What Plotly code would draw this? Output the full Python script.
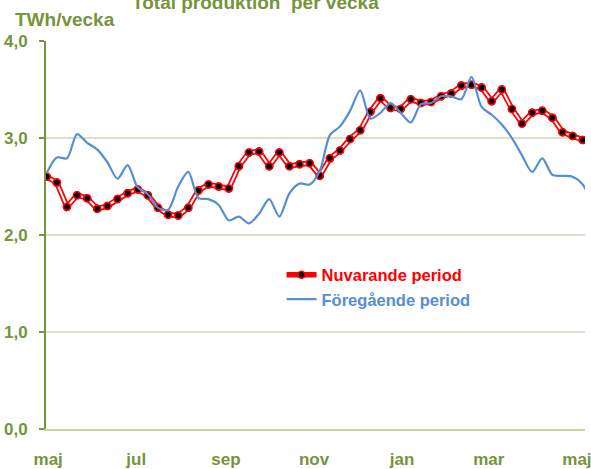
import pandas as pd
import plotly.graph_objects as go

# ---- data ----
weeks = pd.date_range("2011-04-30", periods=55, freq="7D")
nuvarande = [2.60, 2.54, 2.29, 2.41, 2.38, 2.27, 2.30, 2.37, 2.43, 2.47,
             2.41, 2.28, 2.21, 2.20, 2.28, 2.46, 2.52, 2.50, 2.48, 2.71,
             2.85, 2.86, 2.71, 2.85, 2.71, 2.73, 2.74, 2.61, 2.79, 2.87,
             2.99, 3.08, 3.27, 3.41, 3.31, 3.30, 3.40, 3.36, 3.37, 3.43,
             3.46, 3.54, 3.55, 3.52, 3.38, 3.50, 3.30, 3.15, 3.26, 3.28,
             3.21, 3.06, 3.02, 2.98, 2.96]
foregaende = [2.64, 2.80, 2.79, 3.04, 2.95, 2.88, 2.75, 2.58, 2.72, 2.49,
              2.42, 2.28, 2.26, 2.50, 2.65, 2.38, 2.37, 2.31, 2.15, 2.19,
              2.12, 2.22, 2.37, 2.19, 2.43, 2.53, 2.52, 2.66, 3.03, 3.12,
              3.28, 3.49, 3.20, 3.26, 3.36, 3.26, 3.16, 3.35, 3.36, 3.43,
              3.43, 3.40, 3.63, 3.32, 3.24, 3.14, 3.00, 2.82, 2.65, 2.79,
              2.62, 2.61, 2.60, 2.52, 2.30]
tick_dates = ["2011-05-01", "2011-07-01", "2011-09-01", "2011-11-01",
              "2012-01-01", "2012-03-01", "2012-05-01"]
tick_labels = ["maj", "jul", "sep", "nov", "jan", "mar", "maj"]
y_ticks = [0, 1, 2, 3, 4]

GREEN = "#77933C"
RED = "#FF0000"
BLUE = "#558ED5"
FONT = "Liberation Sans, Arial, sans-serif"

fig = go.Figure()

# red double line + markers (legend entry)
fig.add_trace(go.Scatter(
    x=weeks, y=nuvarande, mode="lines+markers",
    name="<span style='color:#FF0000'><b>Nuvarande period</b></span>",
    line=dict(color=RED, width=5.5),
    marker=dict(color="black", size=7, line=dict(color=RED, width=1.5)),
    legendrank=1,
))
fig.add_trace(go.Scatter(
    x=weeks, y=nuvarande, mode="lines", showlegend=False,
    line=dict(color="white", width=2), hoverinfo="skip",
))
fig.add_trace(go.Scatter(
    x=weeks, y=nuvarande, mode="markers", showlegend=False,
    marker=dict(color="black", size=7, line=dict(color=RED, width=1.5)),
    hoverinfo="skip",
))
fig.add_trace(go.Scatter(
    x=weeks, y=foregaende, mode="lines",
    name="<span style='color:#558ED5'><b>Föregående period</b></span>",
    line=dict(color=BLUE, width=2.2, shape="spline", smoothing=0.8),
    legendrank=2,
))

fig.update_layout(
    width=591, height=469,
    margin=dict(l=46, r=0, t=41, b=39),
    paper_bgcolor="white", plot_bgcolor="white",
    separators=", ",
    font=dict(family=FONT, color=GREEN, size=16),
    showlegend=True,
    legend=dict(x=0.437, y=0.366, xanchor="left", yanchor="middle",
                bgcolor="rgba(0,0,0,0)", font=dict(size=16.5, family=FONT),
                tracegroupgap=0),
    xaxis=dict(
        type="date",
        range=["2011-04-29 12:00", "2012-05-06 14:00"],
        tickvals=tick_dates, ticktext=tick_labels,
        showgrid=False, showline=True, linecolor="#C4D79B", linewidth=2,
        ticks="", tickfont=dict(size=17, family=FONT, color=GREEN, weight="bold"),
        ticklabelstandoff=14, ticklabeloverflow="allow", zeroline=False,
    ),
    yaxis=dict(
        range=[0, 4], tickvals=y_ticks, tickformat=".1f",
        showgrid=True, gridcolor="#D8E2C8", gridwidth=2,
        showline=True, linecolor=GREEN, linewidth=2,
        ticks="outside", ticklen=5, tickwidth=2, tickcolor=GREEN,
        tickfont=dict(size=17, family=FONT, color=GREEN, weight="bold"),
        ticklabelstandoff=8, zeroline=False,
    ),
    annotations=[
        dict(text="<b>TWh/vecka</b>", xref="paper", yref="paper",
             x=-0.061, y=1.0566, xanchor="left", yanchor="middle",
             showarrow=False, font=dict(size=19, family=FONT, color=GREEN)),
        dict(text="<b>Total produktion  per vecka</b>", xref="paper", yref="paper",
             x=0.389, y=1.100, xanchor="center", yanchor="middle",
             showarrow=False, font=dict(size=19, family=FONT, color=GREEN)),
    ],
)

fig.write_html("out.html", config={"displayModeBar": False},
               post_script="document.body.style.margin='0';document.body.style.overflow='hidden';")
